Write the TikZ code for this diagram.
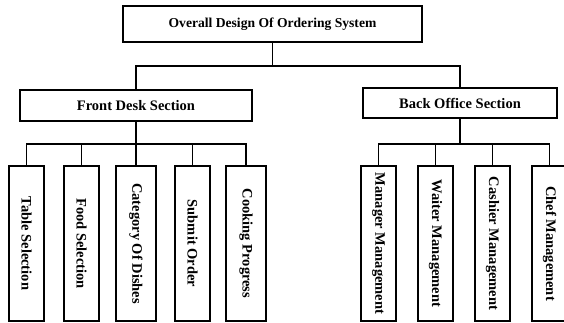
\documentclass[tikz,border=0pt]{standalone}
\usepackage{fontspec}
\setmainfont{Liberation Serif}
\begin{document}
\begin{tikzpicture}[x=1pt,y=-1pt,
  box/.style={draw,line width=1.7pt,inner sep=0pt,font=\bfseries\fontsize{14.5}{16}\selectfont},
  vbox/.style={box,minimum height=155pt},
  conn/.style={line width=1.7pt}]
\useasboundingbox (0,0) rectangle (564,323);
\node[box,minimum width=299pt,minimum height=36pt,font=\bfseries\fontsize{13.6}{15}\selectfont] (top) at (272.5,24) {Overall Design Of Ordering System};
\node[box,minimum width=232pt,minimum height=31pt] (front) at (136,105.5) {Front Desk Section};
\node[box,minimum width=194pt,minimum height=30pt] (back) at (460,103) {Back Office Section};
% front children
\node[vbox,minimum width=35pt] (f1) at (26.5,243.5) {\rotatebox{-90}{Table Selection}};
\node[vbox,minimum width=35pt] (f2) at (81.5,243.5) {\rotatebox{-90}{Food Selection}};
\node[vbox,minimum width=40pt] (f3) at (136,243.5) {\rotatebox{-90}{Category Of Dishes}};
\node[vbox,minimum width=35pt] (f4) at (192.5,243.5) {\rotatebox{-90}{Submit Order}};
\node[vbox,minimum width=40pt] (f5) at (246,243.5) {\rotatebox{-90}{Cooking Progress}};
% back children
\node[vbox,minimum width=35pt] (b1) at (378.5,243.5) {\rotatebox{-90}{Manager Management}};
\node[vbox,minimum width=35pt] (b2) at (435.5,243.5) {\rotatebox{-90}{Waiter Management}};
\node[vbox,minimum width=35pt] (b3) at (492.5,243.5) {\rotatebox{-90}{Cashier Management}};
\node[vbox,minimum width=35pt] (b4) at (549.5,243.5) {\rotatebox{-90}{Chef Management}};
% connectors
\draw[conn] (top.south) -- ++(0,23) coordinate (tj);
\draw[conn] (tj) -| (front.north);
\draw[conn] (tj) -| (back.north);
\draw[conn] (front.south) -- ++(0,22) coordinate (fj);
\foreach \c in {f1,f2,f3,f4,f5} \draw[conn] (fj) -| (\c.north);
\draw[conn] (back.south) -- ++(0,25) coordinate (bj);
\foreach \c in {b1,b2,b3,b4} \draw[conn] (bj) -| (\c.north);
\end{tikzpicture}
\end{document}
